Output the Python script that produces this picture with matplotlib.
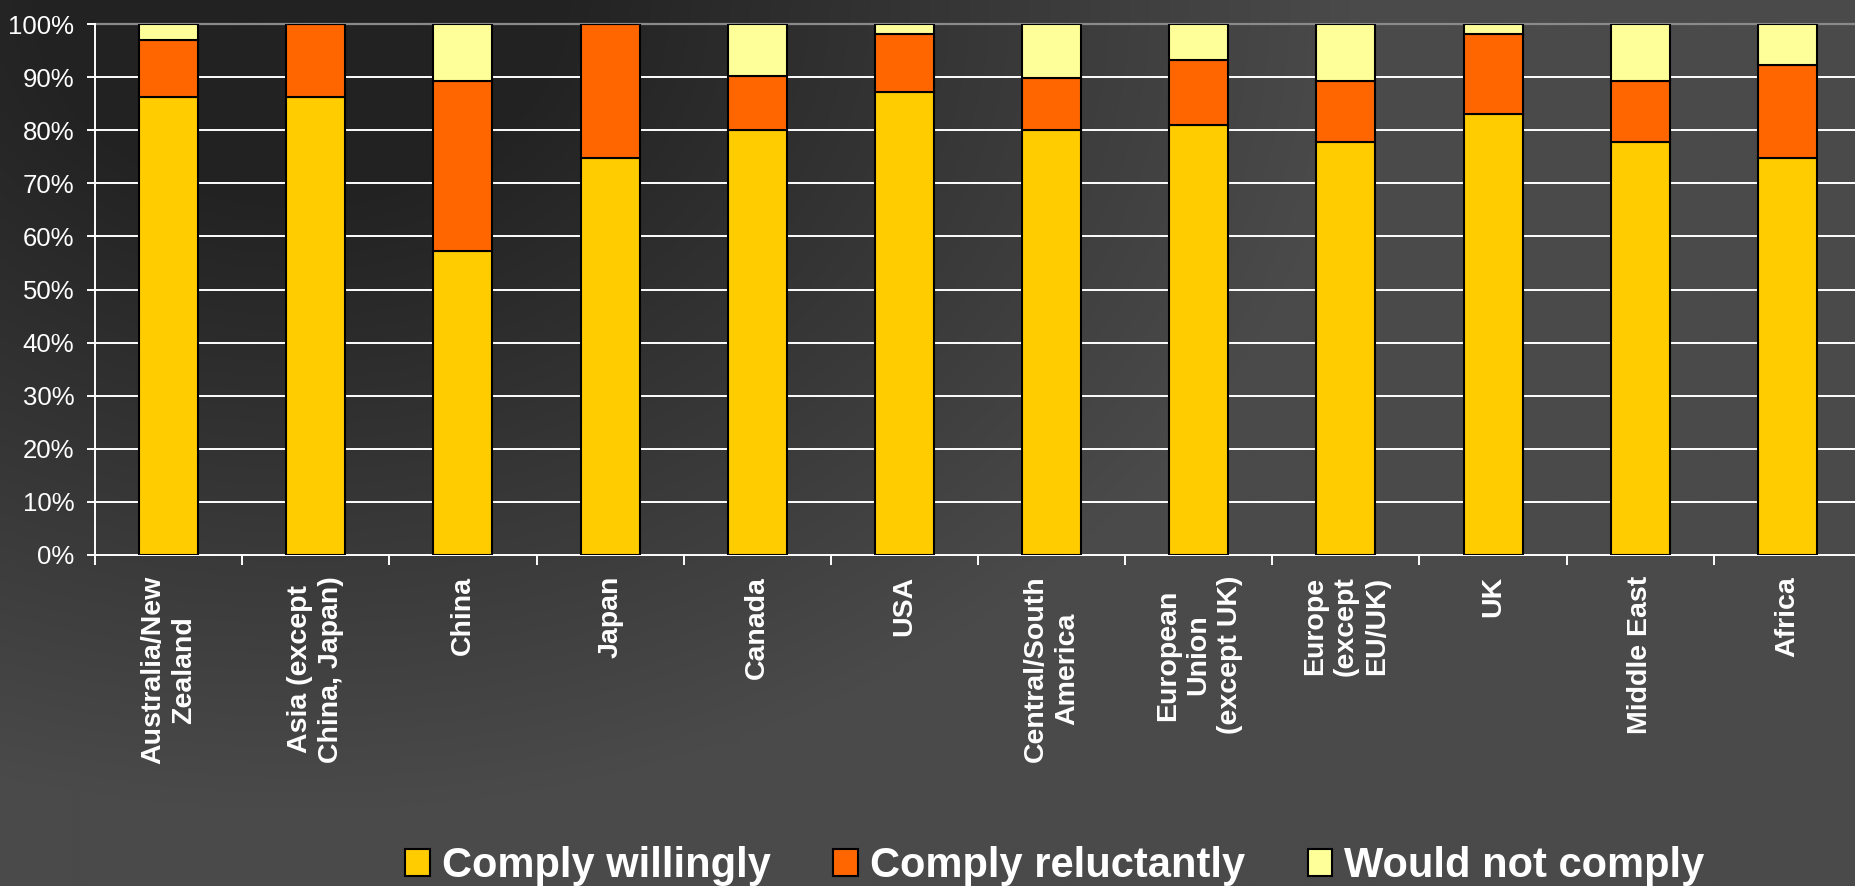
import numpy as np
import matplotlib
matplotlib.use('Agg')
import matplotlib.pyplot as plt
from matplotlib.patches import Patch

categories = ["Australia/New\nZealand", "Asia (except\nChina, Japan)", "China", "Japan",
              "Canada", "USA", "Central/South\nAmerica", "European\nUnion\n(except UK)",
              "Europe\n(except\nEU/UK)", "UK", "Middle East", "Africa"]
willing = [86.2, 86.2, 57.3, 74.7, 80.0, 87.2, 80.0, 81.0, 77.7, 83.0, 77.7, 74.7]
reluctant = [10.8, 13.8, 31.9, 25.3, 10.3, 11.0, 9.9, 12.3, 11.5, 15.2, 11.5, 17.5]
not_comply = [3.0, 0.0, 10.8, 0.0, 9.7, 1.8, 10.1, 6.7, 10.8, 1.8, 10.8, 7.8]
series_names = ["Comply willingly", "Comply reluctantly", "Would not comply"]
series_colors = ["#FFCC00", "#FF6600", "#FFFF99"]
yticks = [0, 10, 20, 30, 40, 50, 60, 70, 80, 90, 100]

plt.rcParams['font.family'] = ['Liberation Sans', 'DejaVu Sans']

W, H = 1855, 886
fig = plt.figure(figsize=(W / 100, H / 100), dpi=100)

# background gradient
bg = fig.add_axes([0, 0, 1, 1], zorder=-10)
yy, xx = np.mgrid[0:H:2, 0:W:2]
d = np.sqrt((xx - 300.0) ** 2 + (yy * 1.3) ** 2)
v = (0x22 + 40 * np.clip((d - 250) / 800, 0, 1)) / 255.0
img = np.dstack([v, v, v])
bg.imshow(img, extent=[0, 1, 0, 1], aspect='auto', interpolation='bilinear')
bg.set_xlim(0, 1); bg.set_ylim(0, 1)
bg.axis('off')

left = 95 / W
right_px = 1861
bottom = 1 - 555 / H
top = 1 - 24 / H
ax = fig.add_axes([left, bottom, (right_px - 95) / W, top - bottom])
ax.patch.set_alpha(0)

x = np.arange(len(categories))
w = 0.4
b1 = np.array(willing)
b2 = b1 + np.array(reluctant)
for vals, base, c in [(willing, 0, series_colors[0]), (reluctant, b1, series_colors[1]),
                      (not_comply, b2, series_colors[2])]:
    ax.bar(x, vals, w, bottom=base, color=c, edgecolor='black', linewidth=1.5, zorder=3)

ax.set_xlim(-0.5, len(categories) - 0.5)
ax.set_ylim(0, 100)
for yv in yticks[1:-1]:
    ax.axhline(yv, color='white', lw=1.4, zorder=1)

for s in ['right']:
    ax.spines[s].set_visible(False)
ax.spines['top'].set_color('#8a8a8a')
ax.spines['top'].set_linewidth(1.6)
ax.spines['top'].set_zorder(0)
ax.spines['left'].set_color('white')
ax.spines['bottom'].set_color('white')
ax.spines['left'].set_linewidth(1.4)
ax.spines['bottom'].set_linewidth(1.4)

ax.set_yticks(yticks)
ax.set_yticklabels([f"{t}%" for t in yticks])
ax.tick_params(axis='y', colors='white', length=6, width=1.4, pad=9, labelsize=18.5, direction='out')

ax.set_xticks(x)
ax.set_xticklabels(categories, rotation=90, fontweight='bold', fontsize=20.5, color='white',
                   linespacing=1.25, multialignment='center')
ax.tick_params(axis='x', length=0, pad=15)
ax.set_xticks(np.arange(-0.5, len(categories) - 0.5, 1.0), minor=True)
ax.tick_params(axis='x', which='minor', colors='white', length=7, width=1.4, direction='out')

handles = [Patch(facecolor=c, edgecolor='black', linewidth=1.5, label=n)
           for n, c in zip(series_names, series_colors)]
leg = fig.legend(handles=handles, loc='center', bbox_to_anchor=(1055 / W, 1 - 866 / H),
                 ncol=3, frameon=False, prop={'weight': 'bold', 'size': 30},
                 handlelength=0.58, handleheight=0.62, handletextpad=0.3, columnspacing=1.5)
for t in leg.get_texts():
    t.set_color('white')

fig.savefig('out.png', dpi=100)
